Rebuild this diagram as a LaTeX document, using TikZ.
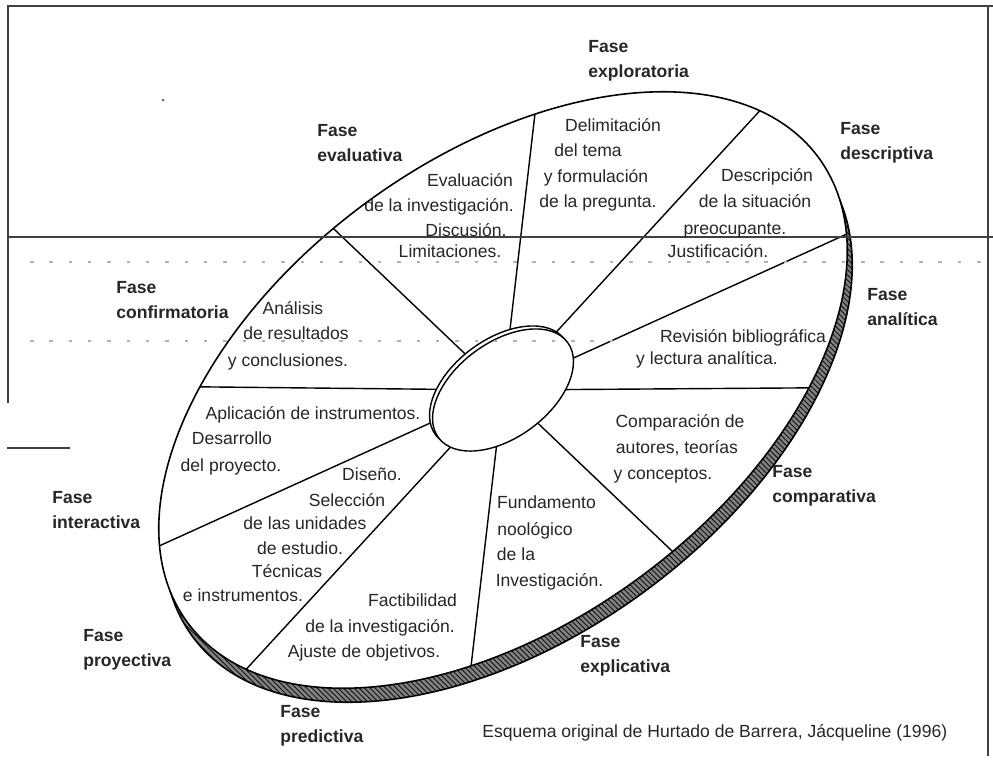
\documentclass[tikz,border=0pt]{standalone}
\usepackage{fontspec}
\setmainfont{Liberation Sans}
\usetikzlibrary{shapes.geometric,patterns}

\tikzset{
  disc/.style={ellipse, draw, line width=0.9pt, inner sep=0pt, outer sep=0pt,
    rotate=36.4, minimum width=15.68cm, minimum height=9.28cm},
  hole/.style={ellipse, draw, fill=white, line width=0.8pt, inner sep=0pt,
    outer sep=0pt, rotate=36.4, minimum width=3.21cm, minimum height=1.90cm},
  spoke/.style={line width=0.8pt},
  fase/.style={font=\bfseries\fontsize{10}{14.2}\selectfont, align=left,
    anchor=west, inner sep=0pt, text=black!85},
  txt/.style={inner sep=0pt, anchor=base, text=black!85},
  scan/.style={black!75, line width=1.1pt},
  specks/.style={black!30, line width=1pt, dash pattern=on 2pt off 9pt},
}

\begin{document}
\begin{tikzpicture}[x=0.02cm, y=-0.02cm]
\useasboundingbox (0,0) rectangle (993,761);

% disc with its rim
\node[disc, fill=black!50] (rim) at (508,404) {};
\node[disc, draw=none, pattern=north west lines] (rimtex) at (508,404) {};
\node[disc, fill=white] (disc) at (503,390) {};

% sectors
\foreach \a in {47,11,-12,-36.4,-80.5,-133,-169,168.5,143.6,100}
  \draw[spoke] (disc.center) -- (disc.\a);

% hole in the middle
\node[hole] (wall) at (500,387) {};
\node[hole] (hole) at (503,390) {};

% marks of the scanned page
\draw[scan] (7,6) -- (993,6);
\draw[scan] (8,6) -- (8,403);
\draw[scan] (7,448) -- (70,448);
\draw[scan] (988,6) -- (988,756);
\draw[scan] (7,237) -- (993,237);
\draw[specks] (30,262) -- (990,262);
\draw[specks] (30,341) -- (620,341);
\fill[black!60] (163,100) circle (1.5);

% texts of the sectors
\foreach \x/\y/\t [count=\i] in {
  470/186.5/Evaluación, 439/211.5/de la investigación.,
  466/236.5/Discusión., 450/257.5/Limitaciones.,
  613/131.5/Delimitación, 588/156.5/del tema,
  596/182.5/y formulación, 598/207.5/de la pregunta.,
  767/181.5/Descripción, 755/207.5/de la situación,
  735/234.5/preocupante., 718/257.5/Justificación.,
  743/342.5/Revisión bibliográfica, 707/364.5/y lectura analítica.,
  680/427.5/Comparación de, 677/453.5/{autores, teorías},
  663/479.5/y conceptos.,
  546.5/508.5/Fundamento, 535/535.5/noológico,
  516/560.5/de la, 549.5/586.5/Investigación.,
  412.5/606.5/Factibilidad, 380/632.5/de la investigación.,
  364/657.5/Ajuste de objetivos.,
  372/480.5/Diseño., 347/506.5/Selección,
  305/529.5/de las unidades, 300/554.5/de estudio.,
  287/577.5/Técnicas, 243/601.5/e instrumentos.,
  313/419.5/Aplicación de instrumentos., 232/444.5/Desarrollo,
  231/471.5/del proyecto.,
  293/314.5/Análisis, 296/339.5/de resultados,
  288/366.5/y conclusiones.}
  \node[txt] (line\i) at (\x,\y) {\t};

% phases
\node[fase] (exploratoria) at (588,60.5) {Fase\\exploratoria};
\node[fase] (descriptiva) at (840,142.5) {Fase\\descriptiva};
\node[fase] (analitica) at (867,307.5) {Fase\\analítica};
\node[fase] (comparativa) at (772,485.5) {Fase\\comparativa};
\node[fase] (explicativa) at (580,655.5) {Fase\\explicativa};
\node[fase] (predictiva) at (280,726) {Fase\\predictiva};
\node[fase] (proyectiva) at (83,649.5) {Fase\\proyectiva};
\node[fase] (interactiva) at (52,510.5) {Fase\\interactiva};
\node[fase] (confirmatoria) at (116,300) {Fase\\confirmatoria};
\node[fase] (evaluativa) at (317,143) {Fase\\evaluativa};

\node[txt, anchor=base west] (caption) at (482,737.5)
  {Esquema original de Hurtado de Barrera, Jácqueline (1996)};
\end{tikzpicture}
\end{document}
